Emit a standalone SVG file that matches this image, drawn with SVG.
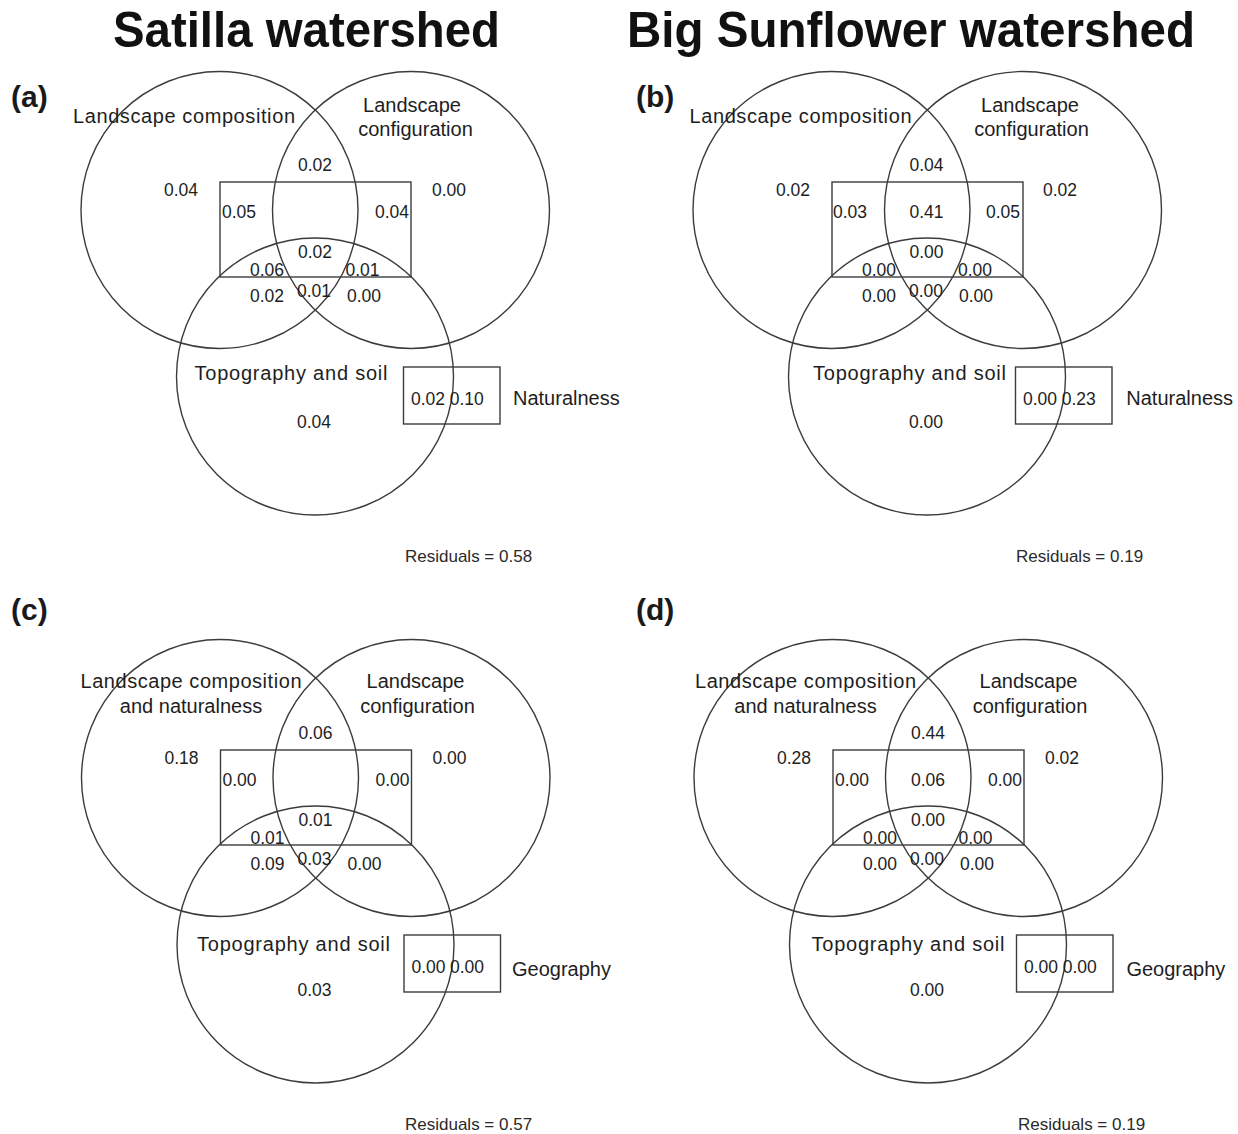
<svg xmlns="http://www.w3.org/2000/svg" xmlns:xlink="http://www.w3.org/1999/xlink" width="1238" height="1134" viewBox="0 0 1238 1134">
<style>
text{font-family:"Liberation Sans",Arial,sans-serif;fill:#1e1e1e}
.t{font-size:50px;font-weight:bold;fill:#111}
.p{font-size:30px;font-weight:bold;fill:#1a1a1a}
.l{font-size:20px}
.c{text-anchor:middle}
.n{font-size:17.5px;text-anchor:middle}
.r{font-size:17px;fill:#2a2a2a}
.g circle,.g rect{fill:none;stroke:#3c3c3c;stroke-width:1.4}
</style>
<defs>
<g id="venn" class="g">
<circle cx="219.5" cy="210" r="138.5"/>
<circle cx="411" cy="210" r="138.5"/>
<circle cx="315" cy="376.5" r="138.5"/>
<rect x="220" y="182" width="191" height="95"/>
<rect x="403.5" y="367" width="96.5" height="57"/>
</g>
</defs>
<g id="titles">
<text class="t c" x="306.5" y="47" textLength="387" lengthAdjust="spacingAndGlyphs">Satilla watershed</text>
<text class="t c" x="911" y="47" textLength="568" lengthAdjust="spacingAndGlyphs">Big Sunflower watershed</text>
</g>
<g id="panel-a">
<use xlink:href="#venn" href="#venn"/>
<text class="p" x="11" y="107">(a)</text>
<text class="l c" x="184" y="123.3" textLength="222" lengthAdjust="spacing">Landscape composition</text>
<text class="l c" x="412" y="111.7">Landscape</text>
<text class="l c" x="415.5" y="135.7">configuration</text>
<text class="l c" x="291" y="380" textLength="193" lengthAdjust="spacing">Topography and soil</text>
<text class="l" x="513" y="405">Naturalness</text>
<text class="n" x="181" y="196">0.04</text>
<text class="n" x="315" y="170.7">0.02</text>
<text class="n" x="449" y="196">0.00</text>
<text class="n" x="239" y="218.3">0.05</text>
<text class="n" x="392" y="218.3">0.04</text>
<text class="n" x="315" y="258">0.02</text>
<text class="n" x="267" y="275.7">0.06</text>
<text class="n" x="362.5" y="275.7">0.01</text>
<text class="n" x="267" y="301.7">0.02</text>
<text class="n" x="314" y="297">0.01</text>
<text class="n" x="364" y="301.7">0.00</text>
<text class="n" x="314" y="427.7">0.04</text>
<text class="n" x="428" y="405">0.02</text>
<text class="n" x="466.7" y="405">0.10</text>
<text class="r" x="405" y="561.7">Residuals = 0.58</text>
</g>
<g id="panel-b">
<use xlink:href="#venn" href="#venn" transform="translate(612,0)"/>
<text class="p" x="636" y="107">(b)</text>
<text class="l c" x="800.5" y="123.3" textLength="222" lengthAdjust="spacing">Landscape composition</text>
<text class="l c" x="1030" y="111.7">Landscape</text>
<text class="l c" x="1031.5" y="135.7">configuration</text>
<text class="l c" x="909.5" y="380" textLength="193" lengthAdjust="spacing">Topography and soil</text>
<text class="l" x="1126.3" y="405">Naturalness</text>
<text class="n" x="793" y="196">0.02</text>
<text class="n" x="926.5" y="170.7">0.04</text>
<text class="n" x="1060" y="196">0.02</text>
<text class="n" x="850" y="218.3">0.03</text>
<text class="n" x="926.5" y="218.3">0.41</text>
<text class="n" x="1003" y="218.3">0.05</text>
<text class="n" x="926.5" y="258">0.00</text>
<text class="n" x="879" y="275.7">0.00</text>
<text class="n" x="975" y="275.7">0.00</text>
<text class="n" x="879" y="301.7">0.00</text>
<text class="n" x="926" y="297">0.00</text>
<text class="n" x="976" y="301.7">0.00</text>
<text class="n" x="926" y="427.7">0.00</text>
<text class="n" x="1040" y="405">0.00</text>
<text class="n" x="1078.7" y="405">0.23</text>
<text class="r" x="1016" y="561.7">Residuals = 0.19</text>
</g>
<g id="panel-c">
<use xlink:href="#venn" href="#venn" transform="translate(0.5,568)"/>
<text class="p" x="11" y="620">(c)</text>
<text class="l c" x="191" y="688.3" textLength="221" lengthAdjust="spacing">Landscape composition</text>
<text class="l c" x="191" y="713">and naturalness</text>
<text class="l c" x="415.5" y="688.3">Landscape</text>
<text class="l c" x="417.5" y="713">configuration</text>
<text class="l c" x="293.5" y="951" textLength="193" lengthAdjust="spacing">Topography and soil</text>
<text class="l" x="512" y="976">Geography</text>
<text class="n" x="181.5" y="764">0.18</text>
<text class="n" x="315.5" y="738.7">0.06</text>
<text class="n" x="449.5" y="764">0.00</text>
<text class="n" x="239.5" y="786.3">0.00</text>
<text class="n" x="392.5" y="786.3">0.00</text>
<text class="n" x="315.5" y="826">0.01</text>
<text class="n" x="267.5" y="843.7">0.01</text>
<text class="n" x="267.5" y="869.7">0.09</text>
<text class="n" x="314.5" y="865">0.03</text>
<text class="n" x="364.5" y="869.7">0.00</text>
<text class="n" x="314.5" y="995.7">0.03</text>
<text class="n" x="428.5" y="973">0.00</text>
<text class="n" x="467" y="973">0.00</text>
<text class="r" x="405" y="1129.7">Residuals = 0.57</text>
</g>
<g id="panel-d">
<use xlink:href="#venn" href="#venn" transform="translate(613,568)"/>
<text class="p" x="636" y="620">(d)</text>
<text class="l c" x="805.5" y="688.3" textLength="221" lengthAdjust="spacing">Landscape composition</text>
<text class="l c" x="805.5" y="713">and naturalness</text>
<text class="l c" x="1028.5" y="688.3">Landscape</text>
<text class="l c" x="1030" y="713">configuration</text>
<text class="l c" x="908" y="951" textLength="193" lengthAdjust="spacing">Topography and soil</text>
<text class="l" x="1126.4" y="976">Geography</text>
<text class="n" x="794" y="764">0.28</text>
<text class="n" x="928" y="738.7">0.44</text>
<text class="n" x="1062" y="764">0.02</text>
<text class="n" x="852" y="786.3">0.00</text>
<text class="n" x="928" y="786.3">0.06</text>
<text class="n" x="1005" y="786.3">0.00</text>
<text class="n" x="928" y="826">0.00</text>
<text class="n" x="880" y="843.7">0.00</text>
<text class="n" x="975.5" y="843.7">0.00</text>
<text class="n" x="880" y="869.7">0.00</text>
<text class="n" x="927" y="865">0.00</text>
<text class="n" x="977" y="869.7">0.00</text>
<text class="n" x="927" y="995.7">0.00</text>
<text class="n" x="1041" y="973">0.00</text>
<text class="n" x="1079.7" y="973">0.00</text>
<text class="r" x="1018" y="1129.7">Residuals = 0.19</text>
</g>
</svg>
